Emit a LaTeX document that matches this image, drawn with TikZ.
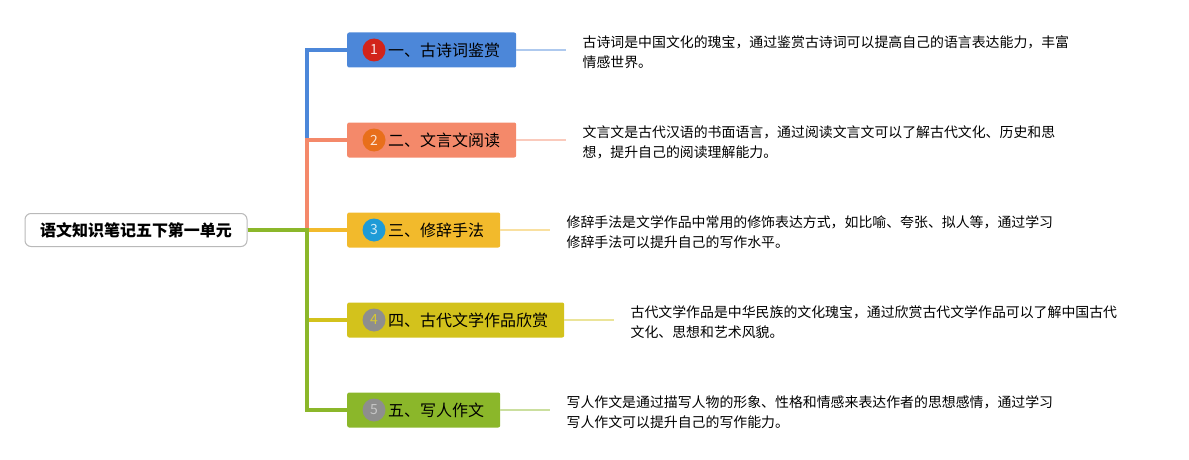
\documentclass[tikz,border=0pt]{standalone}
\usepackage{fontspec}
\setmainfont{Noto Sans CJK SC}
\usetikzlibrary{positioning}
\definecolor{cA}{HTML}{4C87D9}
\definecolor{cB}{HTML}{F4896A}
\definecolor{cC}{HTML}{F2BA2C}
\definecolor{cD}{HTML}{D3C21C}
\definecolor{cE}{HTML}{8BB72A}
\definecolor{nA}{HTML}{D2241A}
\definecolor{nB}{HTML}{E86F1B}
\definecolor{nC}{HTML}{1F9BD7}
\definecolor{nD}{HTML}{8E8E8E}
\begin{document}
\begin{tikzpicture}[x=1pt,y=-1pt,
  root/.style={draw=gray!55,line width=1pt,rounded corners=6pt,fill=white,
    minimum width=222pt,minimum height=33pt,
    font=\fontsize{16}{18}\selectfont\bfseries},
  ax/.style={fill=#1,rounded corners=2pt,minimum height=35pt,
    inner xsep=16pt,anchor=west,font=\fontsize{16}{18}\selectfont},
  num/.style={circle,fill=#1,minimum size=23pt,inner sep=0pt,
    font=\fontsize{14}{14}\selectfont},
  leaf/.style={align=left,inner xsep=16pt,yshift=-2.5pt,
    font=\fontsize{13.9}{20}\selectfont},
  trunk/.style={draw=#1,line width=3.5pt},
  twig/.style={draw=#1!45,line width=1.5pt}]
\useasboundingbox (0,0) rectangle (1189,460);
\node[root] (r) at (136,230) {语文知识笔记五下第一单元};
\coordinate (j) at (307,230);

\node[ax=cA] (b1) at (347,50)  {\hspace*{25pt}一、古诗词鉴赏};
\node[ax=cB] (b2) at (347,140) {\hspace*{25pt}二、文言文阅读};
\node[ax=cC] (b3) at (347,230) {\hspace*{25pt}三、修辞手法};
\node[ax=cD] (b4) at (347,320) {\hspace*{25pt}四、古代文学作品欣赏};
\node[ax=cE] (b5) at (347,410) {\hspace*{25pt}五、写人作文};

\node[num=nA,text=white!90!nA] (n1) at ([xshift=27pt]b1.west) {1};
\node[num=nB,text=white!80!nB] (n2) at ([xshift=27pt]b2.west) {2};
\node[num=nC,text=white!80!nC] (n3) at ([xshift=27pt]b3.west) {3};
\node[num=nD,text=cD!90!white] (n4) at ([xshift=27pt]b4.west) {4};
\node[num=nD,text=gray!45] (n5) at ([xshift=27pt]b5.west) {5};

\draw[trunk=cA] (r.east) -- (j) |- (b1.west);
\draw[trunk=cB] (r.east) -- (j) |- (b2.west);
\draw[trunk=cC] (r.east) -- (b3.west);
\draw[trunk=cD] (r.east) -- (j) |- (b4.west);
\draw[trunk=cE,line width=4.5pt] (r.east) -- (j) |- (b5.west);

\node[leaf,right=50pt of b1] (d1) {古诗词是中国文化的瑰宝，通过鉴赏古诗词可以提高自己的语言表达能力，丰富\\情感世界。};
\node[leaf,right=50pt of b2] (d2) {文言文是古代汉语的书面语言，通过阅读文言文可以了解古代文化、历史和思\\想，提升自己的阅读理解能力。};
\node[leaf,right=50pt of b3] (d3) {修辞手法是文学作品中常用的修饰表达方式，如比喻、夸张、拟人等，通过学习\\修辞手法可以提升自己的写作水平。};
\node[leaf,right=50pt of b4] (d4) {古代文学作品是中华民族的文化瑰宝，通过欣赏古代文学作品可以了解中国古代\\文化、思想和艺术风貌。};
\node[leaf,right=50pt of b5] (d5) {写人作文是通过描写人物的形象、性格和情感来表达作者的思想感情，通过学习\\写人作文可以提升自己的写作能力。};

\draw[twig=cA] (b1.east) -- (b1.east -| d1.west);
\draw[twig=cB] (b2.east) -- (b2.east -| d2.west);
\draw[twig=cC] (b3.east) -- (b3.east -| d3.west);
\draw[twig=cD] (b4.east) -- (b4.east -| d4.west);
\draw[twig=cE] (b5.east) -- (b5.east -| d5.west);
\end{tikzpicture}
\end{document}
